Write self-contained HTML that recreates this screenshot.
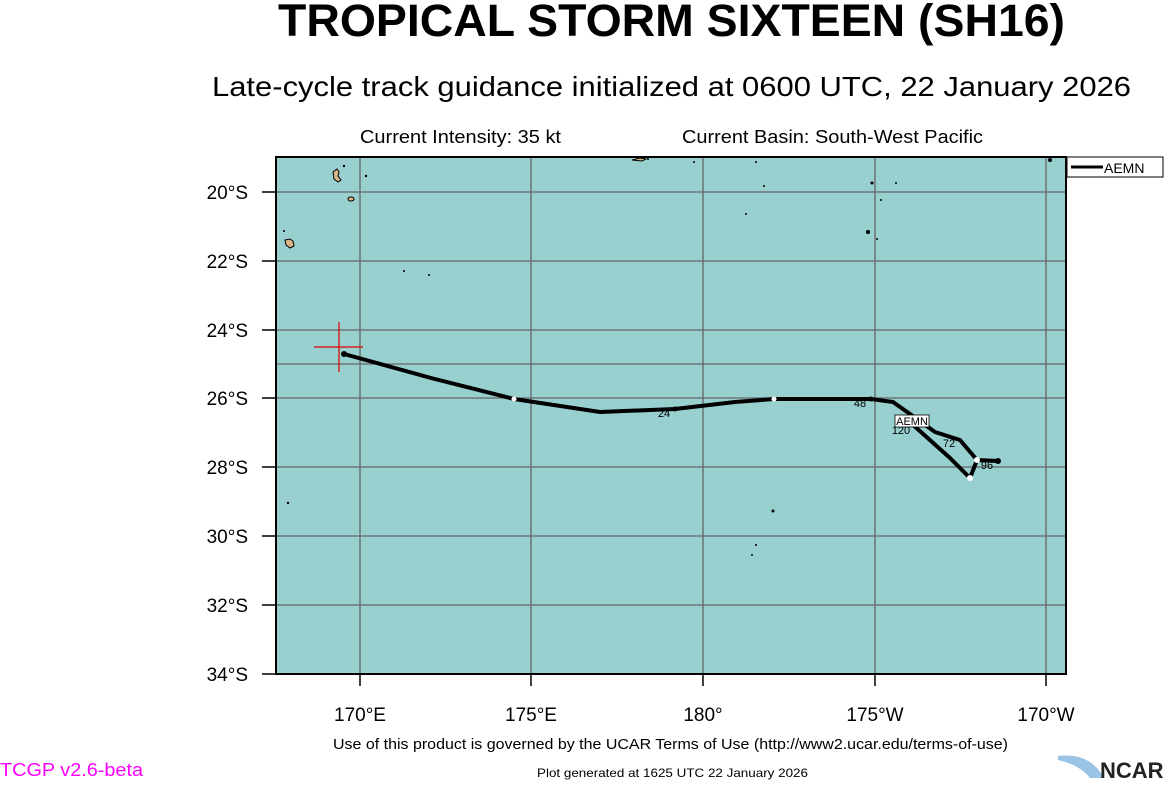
<!DOCTYPE html>
<html><head><style>
body{margin:0;background:#fff;width:1164px;height:780px;overflow:hidden;font-family:"Liberation Sans",sans-serif}
svg text{font-family:"Liberation Sans",sans-serif}
</style></head><body>
<svg width="1164" height="780" xmlns="http://www.w3.org/2000/svg">
<text x="278" y="36" font-size="45" font-weight="bold" textLength="787" lengthAdjust="spacingAndGlyphs">TROPICAL STORM SIXTEEN (SH16)</text>
<text x="212" y="96" font-size="28" textLength="919" lengthAdjust="spacingAndGlyphs">Late-cycle track guidance initialized at 0600 UTC, 22 January 2026</text>
<text x="360" y="143" font-size="18" textLength="201" lengthAdjust="spacingAndGlyphs">Current Intensity: 35 kt</text>
<text x="682" y="143" font-size="18" textLength="301" lengthAdjust="spacingAndGlyphs">Current Basin: South-West Pacific</text>
<rect x="276" y="157" width="790" height="517" fill="#98cfcf"/>
<g stroke="#666" stroke-width="1.3">
<line x1="360" y1="157" x2="360" y2="674"/><line x1="531" y1="157" x2="531" y2="674"/>
<line x1="703" y1="157" x2="703" y2="674"/><line x1="875" y1="157" x2="875" y2="674"/>
<line x1="1046" y1="157" x2="1046" y2="674"/>
<line x1="276" y1="192" x2="1066" y2="192"/><line x1="276" y1="261" x2="1066" y2="261"/>
<line x1="276" y1="330" x2="1066" y2="330"/><line x1="276" y1="364" x2="1066" y2="364"/>
<line x1="276" y1="398" x2="1066" y2="398"/><line x1="276" y1="467" x2="1066" y2="467"/>
<line x1="276" y1="536" x2="1066" y2="536"/><line x1="276" y1="605" x2="1066" y2="605"/>
</g>
<g fill="#d9b58a" stroke="#000" stroke-width="1">
<path d="M333 172 l4 -3 2 3 -1 4 3 4 -3 2 -4 -3z"/><ellipse cx="351" cy="199" rx="3" ry="2"/>
<path d="M285 240 l5 -1 3 2 1 5 -4 2 -4 -3z"/>
<path d="M632 160 l8 -2 6 1 -4 2z"/>
</g>
<g fill="#000"><circle cx="344" cy="166" r="1.2"/><circle cx="366" cy="176" r="1.2"/><circle cx="284" cy="231" r="1"/>
<circle cx="648" cy="159" r="1"/><circle cx="694" cy="162" r="1"/><circle cx="756" cy="162" r="1"/><circle cx="764" cy="186" r="1"/>
<circle cx="746" cy="214" r="1"/><circle cx="872" cy="183" r="1.5"/><circle cx="896" cy="183" r="1"/><circle cx="881" cy="200" r="1"/>
<circle cx="868" cy="232" r="2"/><circle cx="877" cy="239" r="1"/><circle cx="404" cy="271" r="1"/><circle cx="429" cy="275" r="1"/>
<circle cx="288" cy="503" r="1.2"/><circle cx="773" cy="511" r="1.5"/><circle cx="756" cy="545" r="1"/><circle cx="752" cy="555" r="1"/><circle cx="1050" cy="160" r="2"/></g>
<rect x="276" y="157" width="790" height="517" fill="none" stroke="#000" stroke-width="2"/>
<g stroke="#000" stroke-width="1.5">
<line x1="262" y1="192" x2="276" y2="192"/><line x1="262" y1="261" x2="276" y2="261"/><line x1="262" y1="330" x2="276" y2="330"/>
<line x1="262" y1="398" x2="276" y2="398"/><line x1="262" y1="467" x2="276" y2="467"/><line x1="262" y1="536" x2="276" y2="536"/>
<line x1="262" y1="605" x2="276" y2="605"/><line x1="262" y1="674" x2="276" y2="674"/>
<line x1="360" y1="674" x2="360" y2="686"/><line x1="531" y1="674" x2="531" y2="686"/><line x1="703" y1="674" x2="703" y2="686"/>
<line x1="875" y1="674" x2="875" y2="686"/><line x1="1046" y1="674" x2="1046" y2="686"/>
</g>
<g font-size="19" text-anchor="end">
<text x="248" y="199">20°S</text><text x="248" y="268">22°S</text><text x="248" y="337">24°S</text><text x="248" y="405">26°S</text>
<text x="248" y="474">28°S</text><text x="248" y="543">30°S</text><text x="248" y="612">32°S</text><text x="248" y="681">34°S</text>
</g>
<g font-size="19" text-anchor="middle">
<text x="360" y="721">170°E</text><text x="531" y="721">175°E</text><text x="703" y="721">180°</text>
<text x="875" y="721">175°W</text><text x="1046" y="721">170°W</text>
</g>
<g stroke="#e00000" stroke-width="1.2"><line x1="314" y1="347" x2="363" y2="347"/><line x1="339" y1="322" x2="339" y2="372"/></g>
<polyline fill="none" stroke="#000" stroke-width="4" stroke-linejoin="round" points="344,354 431,378 514,399 600,412 675,409 735,402 774,399 871,399 893,402 910,414 935,432 960,440 977,460 998,461"/>
<polyline fill="none" stroke="#000" stroke-width="4" stroke-linejoin="round" points="977,460 970,478 950,458 912,424"/>
<g fill="#000"><circle cx="344" cy="354" r="3"/><circle cx="675" cy="409" r="2.5"/><circle cx="871" cy="399" r="2.5"/><circle cx="998" cy="461" r="3"/></g>
<g fill="#fff"><circle cx="514" cy="399" r="2.5"/><circle cx="774" cy="399" r="2.5"/><circle cx="977" cy="460" r="3"/><circle cx="970" cy="478" r="3"/></g>
<g font-size="11" text-anchor="middle"><text x="664" y="417">24</text><text x="860" y="407">48</text><text x="949" y="447">72</text><text x="987" y="469">96</text><text x="901" y="434">120</text></g>
<rect x="895" y="415" width="34" height="12" fill="#fff" stroke="#000" stroke-width="0.8"/>
<text x="912" y="425" font-size="11" text-anchor="middle">AEMN</text>
<rect x="1067" y="157" width="96" height="20" fill="#fff" stroke="#000" stroke-width="1"/>
<line x1="1071" y1="167" x2="1103" y2="167" stroke="#000" stroke-width="3"/>
<text x="1104" y="173" font-size="14">AEMN</text>
<text x="333" y="749" font-size="15" textLength="675" lengthAdjust="spacingAndGlyphs">Use of this product is governed by the UCAR Terms of Use (http://www2.ucar.edu/terms-of-use)</text>
<text x="0" y="776" font-size="18" fill="#ff00ff" textLength="143" lengthAdjust="spacingAndGlyphs">TCGP v2.6-beta</text>
<text x="537" y="777" font-size="12" textLength="271" lengthAdjust="spacingAndGlyphs">Plot generated at 1625 UTC   22 January 2026</text>
<path d="M1058 756 Q1090 752 1104 778 L1090 778 Q1080 765 1058 760z" fill="#9bc3e6"/>
<text x="1100" y="778" font-size="22" font-weight="bold" fill="#222">NCAR</text>
</svg>
</body></html>
